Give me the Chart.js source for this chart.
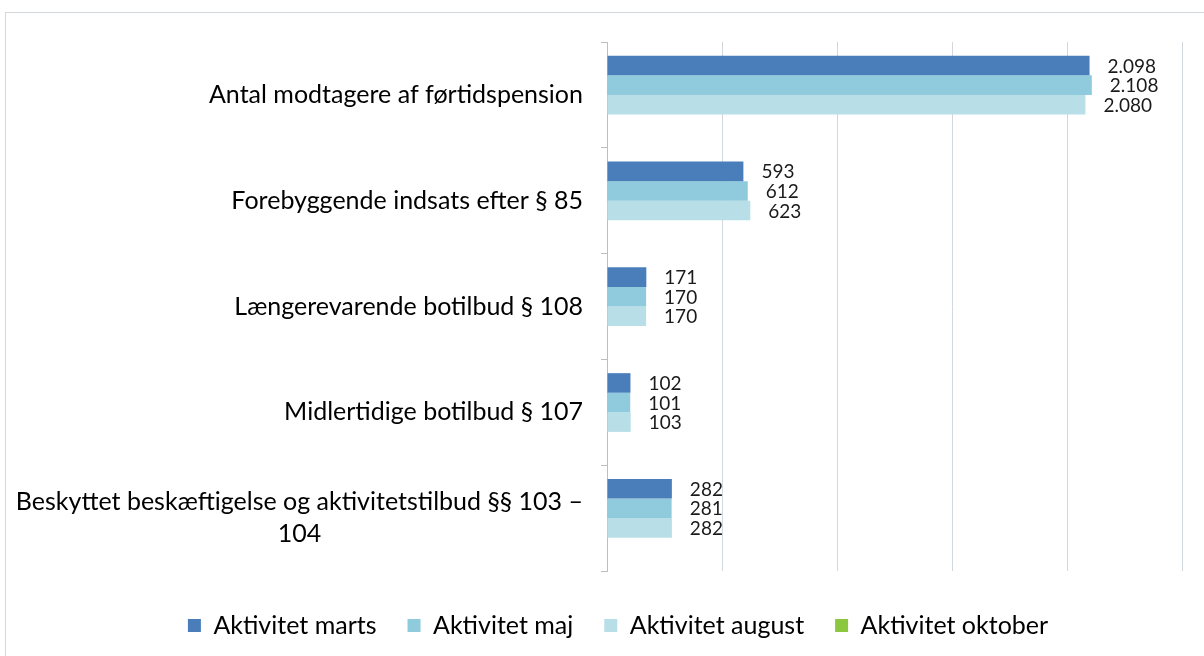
<!DOCTYPE html>
<html>
<head>
<meta charset="utf-8">
<script src="https://cdn.jsdelivr.net/npm/chart.js@4"></script>
<style>
  html, body { margin: 0; padding: 0; background: #fff; }
  #wrap { position: relative; width: 1204px; height: 656px; overflow: hidden; }
  #frame { position: absolute; left: 5px; top: 12px; width: 1300px; height: 700px;
           border-top: 1px solid #d3d8dc; border-left: 1px solid #d3d8dc; }
  #chart { position: absolute; left: 0; top: 0; }
</style>
</head>
<body>
<div id="wrap">
  <div id="frame"></div>
  <canvas id="chart" width="1204" height="656"></canvas>
</div>
<script>
// categories, top to bottom
const categories = [
  "Antal modtagere af førtidspension",
  "Forebyggende indsats efter § 85",
  "Længerevarende botilbud § 108",
  "Midlertidige botilbud § 107",
  ["Beskyttet beskæftigelse og aktivitetstilbud §§ 103 –", "104"]
];

const seriesNames = ["Aktivitet marts", "Aktivitet maj", "Aktivitet august", "Aktivitet oktober"];
const marts   = [2098, 593, 171, 102, 282];
const maj     = [2108, 612, 170, 101, 281];
const august  = [2080, 623, 170, 103, 282];
const oktober = [null, null, null, null, null];

const xTicks = [0, 500, 1000, 1500, 2000, 2500];

const colors = ["#4a7ebb", "#8fcbdc", "#b8dee8", "#8dc63f"];
const labelFont = "Lato, 'Open Sans', sans-serif";

// danish thousands separator
function fmt(v) {
  return String(v).replace(/\B(?=(\d{3})+(?!\d))/g, ".");
}

// value labels to the right of each bar
const valueLabels = {
  id: 'valueLabels',
  afterDatasetsDraw(chart) {
    const ctx = chart.ctx;
    ctx.save();
    ctx.font = "19px " + labelFont;
    ctx.fillStyle = "#1a1a1a";
    ctx.textAlign = "left";
    ctx.textBaseline = "middle";
    chart.data.datasets.forEach((ds, i) => {
      const meta = chart.getDatasetMeta(i);
      meta.data.forEach((bar, j) => {
        const v = ds.data[j];
        if (v == null) return;
        ctx.fillText(fmt(v), bar.x + 18, bar.y + 1);
      });
    });
    ctx.restore();
  }
};

// category labels: block right aligned, lines centered within block
const categoryLabels = {
  id: 'categoryLabels',
  afterDraw(chart) {
    const {ctx, chartArea, scales: {y}} = chart;
    ctx.save();
    ctx.font = "25px " + labelFont;
    ctx.fillStyle = "#000";
    ctx.textAlign = "center";
    ctx.textBaseline = "middle";
    chart.data.labels.forEach((lab, i) => {
      const lines = [].concat(lab);
      const w = Math.max(...lines.map(l => ctx.measureText(l).width));
      const cx = chartArea.left - 24 - w / 2;
      const yc = y.getPixelForTick(i);
      lines.forEach((l, k) => {
        ctx.fillText(l, cx, yc + (k - (lines.length - 1) / 2) * 32);
      });
    });
    ctx.restore();
  }
};

new Chart(document.getElementById('chart'), {
  type: 'bar',
  data: {
    labels: categories,
    datasets: [
      { label: seriesNames[0], data: marts,   backgroundColor: colors[0] },
      { label: seriesNames[1], data: maj,     backgroundColor: colors[1] },
      { label: seriesNames[2], data: august,  backgroundColor: colors[2] },
      { label: seriesNames[3], data: oktober, backgroundColor: colors[3] }
    ]
  },
  options: {
    indexAxis: 'y',
    responsive: false,
    animation: false,
    layout: { padding: { left: 54, right: 22, top: 42, bottom: 8 } },
    datasets: { bar: { categoryPercentage: 0.74, barPercentage: 1.0, borderWidth: 0 } },
    scales: {
      x: {
        min: xTicks[0],
        max: xTicks[xTicks.length - 1],
        afterBuildTicks: s => { s.ticks = xTicks.map(v => ({ value: v })); },
        ticks: { display: false },
        grid: { color: "#d2d7dc", drawTicks: false },
        border: { display: false },
        afterFit: s => { s.height = 11; }
      },
      y: {
        ticks: { display: false },
        grid: { offset: true, drawOnChartArea: false, tickLength: 6, color: "#b9bfc5" },
        border: { color: "#b9bfc5" },
        afterFit: s => { s.width = 553; }
      }
    },
    plugins: {
      legend: {
        position: 'bottom',
        labels: {
          font: { family: labelFont, size: 25 },
          color: "#000",
          boxWidth: 13,
          boxHeight: 13,
          padding: 31
        }
      },
      tooltip: { enabled: false }
    }
  },
  plugins: [valueLabels, categoryLabels]
});
</script>
</body>
</html>
